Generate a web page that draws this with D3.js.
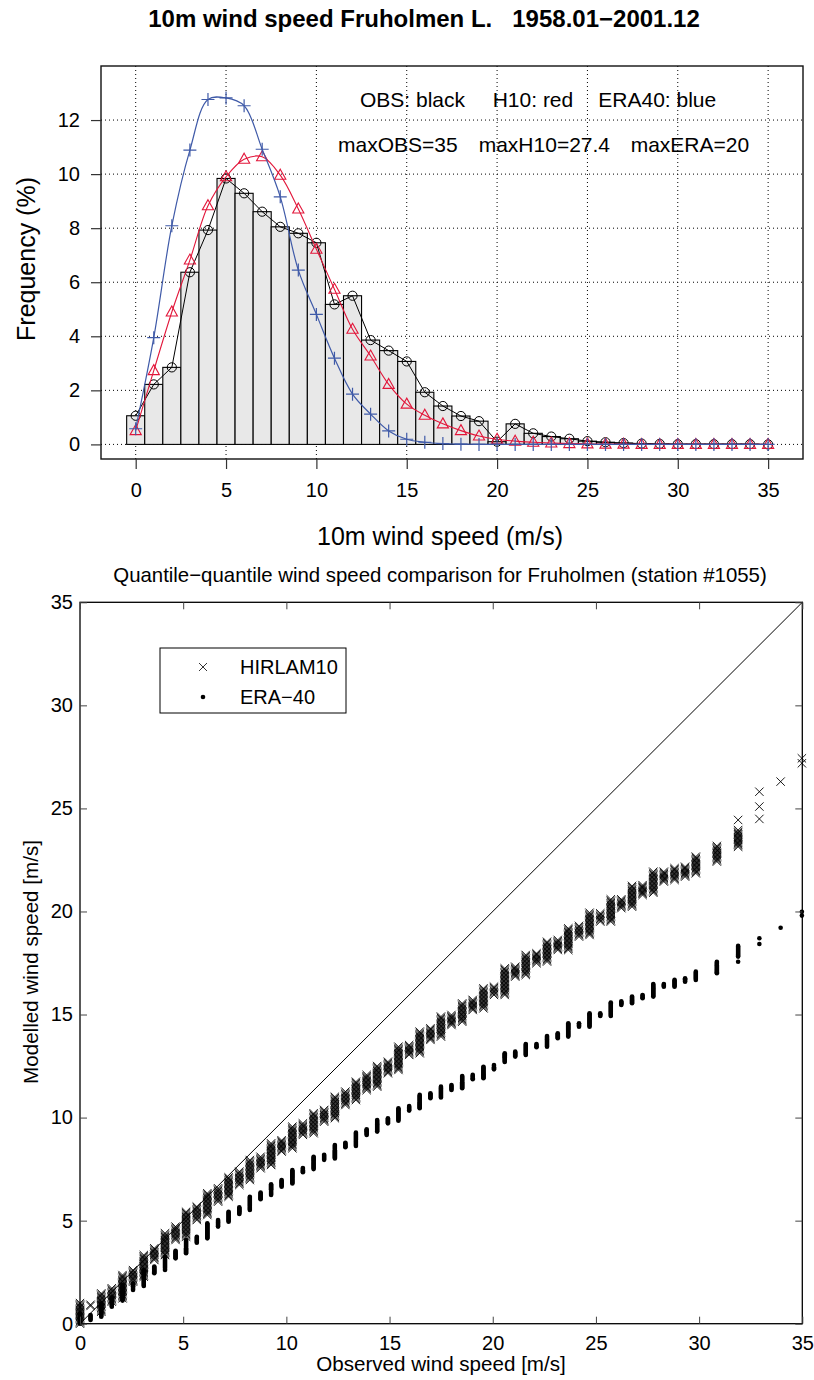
<!DOCTYPE html>
<html>
<head>
<meta charset="utf-8">
<script src="https://cdn.jsdelivr.net/npm/d3@7"></script>
<style>
  body { margin: 0; background: #fff; }
  svg { display: block; font-family: "Liberation Sans", Arial, Helvetica, sans-serif; }
</style>
</head>
<body>
<svg id="chart" width="814" height="1380"></svg>
<script>
// --- histogram data (frequency in %, per 1 m/s bin)
var speedBins = [0,1,2,3,4,5,6,7,8,9,10,11,12,13,14,15,16,17,18,19,20,21,22,23,24,25,26,27,28,29,30,31,32,33,34,35];
var obsFreq = [1.06,2.22,2.85,6.37,7.93,9.84,9.29,8.61,8.05,7.81,7.46,5.18,5.50,3.86,3.47,3.07,1.93,1.42,1.05,0.86,0.10,0.76,0.41,0.29,0.21,0.12,0.08,0.05,0.03,0.02,0.01,0.01,0.01,0.01,0.01,0.00];
var h10Freq = [0.51,2.73,4.90,6.82,8.83,9.90,10.55,10.64,9.96,8.71,7.22,5.74,4.26,3.27,2.22,1.49,1.08,0.76,0.51,0.31,0.19,0.12,0.08,0.05,0.03,0.02,0.01,0.01,0,0,0,0,0,0,0,0];
var eraFreq = [0.58,3.95,8.09,10.89,12.76,12.82,12.53,10.92,9.16,6.45,4.81,3.19,1.86,1.12,0.50,0.19,0.08,0.03,0.01,0,0,0,0,0,0,0,0,0,0,0,0,0,0,0,0,0];
var freqTicks = [0,2,4,6,8,10,12];
var speedTicks = [0,5,10,15,20,25,30,35];

// --- quantile-quantile data (observed m/s, modelled ranges)
var qqObs = [0.00,0.51,1.03,1.54,2.06,2.57,3.09,3.60,4.12,4.63,5.14,5.66,6.17,6.69,7.20,7.72,8.23,8.75,9.26,9.77,
  10.29,10.80,11.32,11.83,12.35,12.86,13.37,13.89,14.40,14.92,15.43,15.95,16.46,16.98,17.49,18.00,18.52,19.03,19.55,20.06,
  20.58,21.09,21.60,22.12,22.63,23.15,23.66,24.18,24.69,25.21,25.72,26.23,26.75,27.26,27.78,28.29,28.81,29.32,29.84,
  30.86,31.89,32.92,33.95,34.98];
var h10Lo = [0.00,0.86,0.58,1.07,1.23,2.04,2.28,3.09,3.33,4.06,4.22,5.03,5.27,5.92,6.16,6.73,6.97,7.54,7.70,8.35,
  8.51,9.16,9.24,9.80,9.97,10.61,10.85,11.33,11.50,12.15,12.31,13.04,13.12,13.77,13.93,14.49,14.65,15.22,15.30,15.95,
  15.95,16.84,16.92,17.49,17.57,18.13,18.13,18.78,18.86,19.51,19.51,20.16,20.23,20.80,20.91,21.45,21.53,21.69,21.85,
  22.42,23.14,24.49,26.30,27.19];
var h10Hi = [1.00,0.92,1.47,1.72,2.36,2.60,3.33,3.66,4.39,4.71,5.43,5.68,6.33,6.57,7.10,7.38,7.94,8.10,8.75,8.90,
  9.56,9.72,10.21,10.37,11.01,11.26,11.74,12.07,12.50,12.71,13.44,13.52,14.17,14.33,14.90,14.98,15.54,15.71,16.27,16.35,
  17.24,17.32,17.89,17.97,18.53,18.62,19.18,19.30,19.94,19.91,20.59,20.59,21.24,21.28,21.93,21.93,22.10,22.17,22.66,
  23.18,23.87,24.49,26.30,27.19];
var eraLo = [0.00,0.18,0.34,0.82,1.12,1.64,1.83,2.45,2.61,3.17,3.42,3.93,4.14,4.71,4.95,5.32,5.52,6.04,6.25,6.65,
  6.80,7.35,7.50,7.95,8.02,8.56,8.62,9.16,9.32,9.72,9.85,10.34,10.45,10.94,10.98,11.34,11.42,11.86,11.91,12.34,
  12.70,12.96,13.04,13.41,13.44,13.85,13.93,14.41,14.41,14.93,14.93,15.46,15.55,15.79,15.87,16.35,16.35,16.59,16.68,
  17.00,17.81,18.42,19.21,19.80];
var eraHi = [0.50,0.42,0.99,1.28,1.88,1.96,2.60,2.77,3.25,3.54,4.06,4.22,4.87,5.03,5.43,5.65,6.16,6.36,6.76,6.97,
  7.45,7.55,8.10,8.20,8.67,8.78,9.27,9.43,9.88,9.97,10.45,10.56,11.10,11.18,11.50,11.58,12.02,12.07,12.47,12.55,
  13.12,13.20,13.57,13.57,13.96,14.09,14.58,14.58,15.06,15.06,15.58,15.64,15.87,15.95,16.48,16.48,16.68,16.76,17.08,
  17.56,18.33,18.42,19.21,19.80];
// isolated quantiles in the upper tail
var h10Sparse = [[31.89,23.95],[31.89,24.44],[32.92,25.09],[32.92,25.81],[34.98,27.43]];
var eraSparse = [[31.89,17.56],[32.92,18.70],[34.98,19.99]];
var qqTicks = [0,5,10,15,20,25,30,35];

var svg = d3.select('#chart');

// =================== histogram ===================
var hx = d3.scaleLinear().domain([-1.92, 36.93]).range([101, 803]);
var hy = d3.scaleLinear().domain([-0.54, 14]).range([459, 66]);
var histG = svg.append('g');

histG.append('g').selectAll('line').data(speedTicks).enter().append('line')
  .attr('x1', function(d){ return hx(d); }).attr('x2', function(d){ return hx(d); })
  .attr('y1', hy.range()[1]).attr('y2', hy.range()[0])
  .attr('stroke', '#000').attr('stroke-width', 1).attr('stroke-dasharray', '1,3');
histG.append('g').selectAll('line').data(freqTicks).enter().append('line')
  .attr('y1', function(d){ return hy(d); }).attr('y2', function(d){ return hy(d); })
  .attr('x1', hx.range()[0]).attr('x2', hx.range()[1])
  .attr('stroke', '#000').attr('stroke-width', 1).attr('stroke-dasharray', '1,3');

histG.append('g').selectAll('rect').data(speedBins).enter().append('rect')
  .attr('x', function(d){ return hx(d - 0.5); })
  .attr('width', function(d){ return hx(d + 0.5) - hx(d - 0.5); })
  .attr('y', function(d, i){ return hy(obsFreq[i]); })
  .attr('height', function(d, i){ return hy(0) - hy(obsFreq[i]); })
  .attr('fill', '#e8e8e8').attr('stroke', '#000').attr('stroke-width', 1.1);

function series(values, color, curve, marker, width) {
  var line = d3.line().x(function(d, i){ return hx(speedBins[i]); }).y(function(d){ return hy(d); }).curve(curve);
  histG.append('path').datum(values).attr('d', line)
    .attr('fill', 'none').attr('stroke', color).attr('stroke-width', width);
  histG.append('g').selectAll('path').data(values).enter().append('path')
    .attr('transform', function(d, i){ return 'translate(' + hx(speedBins[i]) + ',' + hy(d) + ')'; })
    .attr('d', marker)
    .attr('fill', 'none').attr('stroke', color).attr('stroke-width', width);
}
var circleMk = 'M4.6,0A4.6,4.6 0 1,1 -4.6,0A4.6,4.6 0 1,1 4.6,0Z';
var triMk = 'M0,-6L5.6,4L-5.6,4Z';
var plusMk = 'M-6.5,0H6.5M0,-6.5V6.5';
series(obsFreq, '#000', d3.curveLinear, circleMk, 1);
series(h10Freq, '#e2163a', d3.curveCatmullRom.alpha(0.5), triMk, 1.1);
series(eraFreq, '#3f5aa8', d3.curveCatmullRom.alpha(0.5), plusMk, 1.2);

histG.append('rect')
  .attr('x', hx.range()[0]).attr('y', hy.range()[1])
  .attr('width', hx.range()[1] - hx.range()[0]).attr('height', hy.range()[0] - hy.range()[1])
  .attr('fill', 'none').attr('stroke', '#111').attr('stroke-width', 1.4);

var hxAxis = histG.append('g').attr('transform', 'translate(0,' + hy.range()[0] + ')')
  .call(d3.axisBottom(hx).tickValues(speedTicks).tickSize(10).tickPadding(14).tickSizeOuter(0));
var hyAxis = histG.append('g').attr('transform', 'translate(' + hx.range()[0] + ',0)')
  .call(d3.axisLeft(hy).tickValues(freqTicks).tickSize(10).tickPadding(11).tickSizeOuter(0));
[hxAxis, hyAxis].forEach(function(a){
  a.select('.domain').remove();
  a.selectAll('line').attr('stroke', '#333').attr('stroke-width', 1.2);
  a.selectAll('text').attr('font-size', 20).attr('fill', '#000').attr('font-family', null);
});

svg.append('text').attr('x', 424).attr('y', 27).attr('text-anchor', 'middle')
  .attr('font-size', 24).attr('font-weight', 'bold')
  .style('white-space', 'pre')
  .text('10m wind speed Fruholmen L.   1958.01\u22122001.12');
svg.append('text').attr('x', 440).attr('y', 545).attr('text-anchor', 'middle')
  .attr('font-size', 25).text('10m wind speed (m/s)');
svg.append('text').attr('transform', 'translate(35,259) rotate(-90)').attr('text-anchor', 'middle')
  .attr('font-size', 25).text('Frequency (%)');

var notes = [
  { x: 360, y: 107, t: 'OBS: black' }, { x: 492.7, y: 107, t: 'H10: red' }, { x: 598.3, y: 107, t: 'ERA40: blue' },
  { x: 338, y: 152, t: 'maxOBS=35' }, { x: 478.7, y: 152, t: 'maxH10=27.4' }, { x: 630.7, y: 152, t: 'maxERA=20' }
];
svg.append('g').selectAll('text').data(notes).enter().append('text')
  .attr('x', function(d){ return d.x; }).attr('y', function(d){ return d.y; })
  .attr('font-size', 21).text(function(d){ return d.t; });

// =================== quantile-quantile ===================
var qx = d3.scaleLinear().domain([0, 35]).range([80, 802.3]);
var qy = d3.scaleLinear().domain([0, 35]).range([1323.7, 602.3]);
var qqG = svg.append('g');

function stackYs(lo, hi, step) {
  var y0 = qy(lo), y1 = qy(hi);
  if (Math.abs(y0 - y1) < 0.6) return [y0];
  var n = Math.max(1, Math.round(Math.abs(y0 - y1) / step));
  return d3.range(n + 1).map(function(k){ return y0 + (y1 - y0) * k / n; });
}
function xMark(cx, cy, s) {
  return 'M' + (cx - s) + ',' + (cy - s) + 'L' + (cx + s) + ',' + (cy + s) +
         'M' + (cx - s) + ',' + (cy + s) + 'L' + (cx + s) + ',' + (cy - s);
}

qqG.append('line')
  .attr('x1', qx(0)).attr('y1', qy(0)).attr('x2', qx(35)).attr('y2', qy(35))
  .attr('stroke', '#000').attr('stroke-width', 1);

var hPath = '';
qqObs.forEach(function(o, i){
  stackYs(h10Lo[i], h10Hi[i], 1.3).forEach(function(y){ hPath += xMark(qx(o), y, 4.2); });
});
h10Sparse.forEach(function(p){ hPath += xMark(qx(p[0]), qy(p[1]), 4.2); });
qqG.append('path').attr('d', hPath).attr('fill', 'none').attr('stroke', '#000').attr('stroke-width', 0.9);

var eraPts = [];
qqObs.forEach(function(o, i){
  stackYs(eraLo[i], eraHi[i], 1).forEach(function(y){ eraPts.push([qx(o), y]); });
});
eraSparse.forEach(function(p){ eraPts.push([qx(p[0]), qy(p[1])]); });
qqG.append('g').selectAll('circle').data(eraPts).enter().append('circle')
  .attr('cx', function(d){ return d[0]; }).attr('cy', function(d){ return d[1]; })
  .attr('r', 2.3).attr('fill', '#000');

qqG.append('rect')
  .attr('x', qx.range()[0]).attr('y', qy.range()[1])
  .attr('width', qx.range()[1] - qx.range()[0]).attr('height', qy.range()[0] - qy.range()[1])
  .attr('fill', 'none').attr('stroke', '#000').attr('stroke-width', 1.3);

var axB = qqG.append('g').attr('transform', 'translate(0,' + qy.range()[0] + ')')
  .call(d3.axisBottom(qx).tickValues(qqTicks).tickSize(-7).tickPadding(12).tickSizeOuter(0));
var axL = qqG.append('g').attr('transform', 'translate(' + qx.range()[0] + ',0)')
  .call(d3.axisLeft(qy).tickValues(qqTicks).tickSize(-7).tickPadding(7).tickSizeOuter(0));
var axT = qqG.append('g').attr('transform', 'translate(0,' + qy.range()[1] + ')')
  .call(d3.axisTop(qx).tickValues(qqTicks).tickSize(-7).tickFormat('').tickSizeOuter(0));
var axR = qqG.append('g').attr('transform', 'translate(' + qx.range()[1] + ',0)')
  .call(d3.axisRight(qy).tickValues(qqTicks).tickSize(-7).tickFormat('').tickSizeOuter(0));
[axB, axL, axT, axR].forEach(function(a){
  a.select('.domain').remove();
  a.selectAll('line').attr('stroke', '#444').attr('stroke-width', 1);
  a.selectAll('text').attr('font-size', 20).attr('fill', '#000').attr('font-family', null);
});

svg.append('text').attr('x', 440).attr('y', 582).attr('text-anchor', 'middle')
  .attr('font-size', 20.4).text('Quantile\u2212quantile wind speed comparison for Fruholmen (station #1055)');
svg.append('text').attr('x', 441).attr('y', 1371).attr('text-anchor', 'middle')
  .attr('font-size', 20.6).text('Observed wind speed [m/s]');
svg.append('text').attr('transform', 'translate(38,962) rotate(-90)').attr('text-anchor', 'middle')
  .attr('font-size', 20.6).text('Modelled wind speed [m/s]');

// legend
var leg = svg.append('g');
leg.append('rect').attr('x', 160).attr('y', 648).attr('width', 186).attr('height', 65)
  .attr('fill', '#fff').attr('stroke', '#000').attr('stroke-width', 1);
leg.append('path').attr('d', xMark(203, 667, 4)).attr('stroke', '#000').attr('stroke-width', 0.8);
leg.append('circle').attr('cx', 203).attr('cy', 697).attr('r', 2.3).attr('fill', '#000');
leg.append('text').attr('x', 240).attr('y', 674).attr('font-size', 20).text('HIRLAM10');
leg.append('text').attr('x', 240).attr('y', 704).attr('font-size', 20).text('ERA\u221240');
</script>
</body>
</html>
